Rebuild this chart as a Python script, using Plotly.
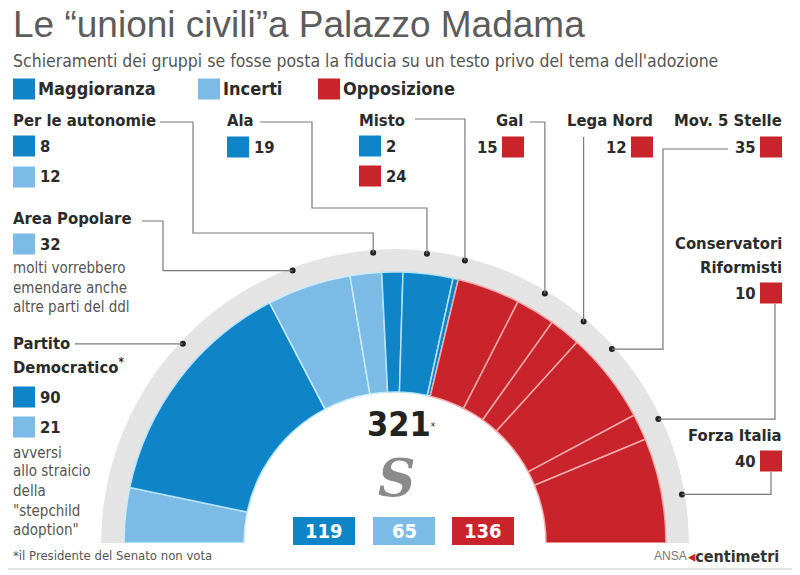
import math
import plotly.graph_objects as go

# ---------------- data ----------------
GROUPS = ["PD (incerti)", "PD", "Area Popolare", "Per le autonomie (incerti)", "Per le autonomie",
          "Ala", "Misto (magg.)", "Misto (opp.)", "Gal", "Lega Nord", "Mov. 5 Stelle",
          "Conservatori Riformisti", "Forza Italia"]
SEATS = [21, 90, 32, 12, 8, 19, 2, 24, 15, 12, 35, 10, 40]
STANCE = ["Incerti", "Maggioranza", "Incerti", "Incerti", "Maggioranza", "Maggioranza", "Maggioranza",
          "Opposizione", "Opposizione", "Opposizione", "Opposizione", "Opposizione", "Opposizione"]
SENATE_TOTAL = "321"
LEGEND_NAMES = ["Maggioranza", "Incerti", "Opposizione"]

COL = {"Maggioranza": "#0f85c8", "Incerti": "#7bbbe6", "Opposizione": "#c9232b"}
SEP = {"Maggioranza": "#b5e2f8", "Incerti": "#c9ecfb", "Opposizione": "#f4aaaa"}

# the page body has an 8px margin: the figure is drawn offset by (8, 8)
OFF = 8
W, H = 800 - OFF, 575 - OFF
def px(x): return (x - OFF) / W
def py(y): return 1 - (y - OFF) / H

CX, CY = 395, 543
R_IN, R_COL, R_OUT = 151, 271, 294
DOT_R = 291

NARROW = "Liberation Sans Narrow, DejaVu Sans Condensed, Arial Narrow, Liberation Sans"
REG = "Liberation Sans, Arial, sans-serif"

total = sum(SEATS)
thetas, widths, cum = [], [], 0
for v in SEATS:
    thetas.append((cum + v / 2) * 180 / total)
    widths.append(v * 180 / total)
    cum += v

fig = go.Figure()
# grey outer ring
fig.add_trace(go.Barpolar(r=[R_OUT - R_COL], base=[R_COL], theta=[90], width=[180],
                          marker=dict(color="#e4e4e4", line=dict(width=0)), hoverinfo="skip", showlegend=False))
fig.add_trace(go.Barpolar(r=[R_COL - R_IN] * len(SEATS), base=[R_IN] * len(SEATS), theta=thetas, width=widths,
                          marker=dict(color=[COL[s] for s in STANCE],
                                      line=dict(color=[SEP[s] for s in STANCE], width=1.5)),
                          text=GROUPS, hoverinfo="text", showlegend=False))

# dots on the ring (angles from the left end, clockwise)
DOT_ANGLES = {"PD": 43.2, "AP": 69.4, "AUT": 85.7, "ALA": 96.3, "MISTO": 103.9, "GAL": 121.0,
              "LEGA": 130.4, "M5S": 138.2, "CR": 154.8, "FI": 170.4}
fig.add_trace(go.Scatterpolar(r=[DOT_R] * len(DOT_ANGLES), theta=list(DOT_ANGLES.values()), mode="markers",
                              marker=dict(color="#222", size=6), hoverinfo="skip", showlegend=False))

def dot(k):
    a = math.radians(DOT_ANGLES[k])
    return (CX - DOT_R * math.cos(a), CY - DOT_R * math.sin(a))

fig.update_layout(
    width=W, height=H, margin=dict(l=0, r=0, t=0, b=0),
    paper_bgcolor="white", plot_bgcolor="white",
    polar=dict(
        domain=dict(x=[px(CX - R_OUT), px(CX + R_OUT)], y=[py(CY), py(CY - R_OUT)]),
        sector=[0, 180], bgcolor="rgba(0,0,0,0)", bargap=0, hole=0,
        radialaxis=dict(range=[0, R_OUT], visible=False),
        angularaxis=dict(rotation=180, direction="clockwise", visible=False),
    ),
)

shapes, ann = [], []

def path(points):
    s = "M " + " L ".join(f"{px(x)},{py(y)}" for x, y in points)
    shapes.append(dict(type="path", xref="paper", yref="paper", path=s,
                       line=dict(color="#7a7a7a", width=1.2)))

def sq(x, yc, stance, w=22, h=21):
    shapes.append(dict(type="rect", xref="paper", yref="paper", x0=px(x), x1=px(x + w),
                       y0=py(yc - h / 2), y1=py(yc + h / 2), fillcolor=COL[stance], line=dict(width=0)))

def txt(x, y, s, size=16.5, bold=True, anchor="left", color="#2b2b2b", fam=NARROW):
    ann.append(dict(x=px(x), y=py(y), xref="paper", yref="paper", text=(f"<b>{s}</b>" if bold else s),
                    showarrow=False, xanchor=anchor, yanchor="middle",
                    font=dict(family=fam, size=size, color=color)))

# leader lines
d = dot("AUT"); path([(160, 122), (193, 122), (193, 233), (d[0], 233), d])
d = dot("AP"); path([(142, 221), (163, 221), (163, d[1]), d])
d = dot("PD"); path([(75, d[1]), d])
d = dot("ALA"); path([(260, 122), (312, 122), (312, 208), (d[0], 208), d])
d = dot("MISTO"); path([(415, 119), (d[0], 119), d])
d = dot("GAL"); path([(530, 122), (d[0], 122), d])
d = dot("LEGA"); path([(d[0], 137), d])
d = dot("M5S"); path([(728, 149), (663, 149), (663, d[1]), d])
d = dot("CR"); path([(775, 304), (775, d[1]), d])
d = dot("FI"); path([(771, 472), (771, d[1]), d])

# title / subtitle
txt(11, 25, "Le “unioni civili”a Palazzo Madama", size=37, bold=False, color="#5c5c5c", fam=REG)
txt(11, 61, "Schieramenti dei gruppi se fosse posta la fiducia su un testo privo del tema dell'adozione",
    size=17.5, bold=False, color="#555")
# legend
for x, name in zip([13, 198, 318], LEGEND_NAMES):
    sq(x, 89, name)
    txt(x + 23, 89, name, size=18)

# left labels
txt(11, 120, "Per le autonomie")
sq(13, 146, STANCE[4]); txt(38, 146, str(SEATS[4]))
sq(13, 177, STANCE[3]); txt(38, 177, str(SEATS[3]))
txt(11, 218, "Area Popolare")
sq(13, 244, STANCE[2]); txt(38, 244, str(SEATS[2]))
for y, s in zip([268, 288, 307], ["molti vorrebbero", "emendare anche", "altre parti del ddl"]):
    txt(11, y, s, size=15, bold=False, color="#555")
txt(11, 343, "Partito")
txt(11, 366, "Democratico<sup>*</sup>")
sq(13, 397, STANCE[1]); txt(38, 397, str(SEATS[1]))
sq(13, 427, STANCE[0]); txt(38, 427, str(SEATS[0]))
for y, s in zip([453, 471, 491, 511, 530], ["avversi", "allo straicio", "della", "\"stepchild", "adoption\""]):
    txt(11, y, s, size=15, bold=False, color="#555")
txt(11, 555, "*il Presidente del Senato non vota", size=13, bold=False, color="#555")

# top labels
txt(225, 120, "Ala")
sq(227, 147, STANCE[5]); txt(252, 147, str(SEATS[5]))
txt(357, 120, "Misto")
sq(359, 146, STANCE[6]); txt(384, 146, str(SEATS[6]))
sq(359, 176, STANCE[7]); txt(384, 176, str(SEATS[7]))
txt(525, 120, "Gal", anchor="right")
sq(502, 147, STANCE[8]); txt(500, 147, str(SEATS[8]), anchor="right")
txt(655, 120, "Lega Nord", anchor="right")
sq(631, 147, STANCE[9]); txt(629, 147, str(SEATS[9]), anchor="right")
txt(784, 120, "Mov. 5 Stelle", anchor="right")
sq(760, 147, STANCE[10]); txt(758, 147, str(SEATS[10]), anchor="right")
txt(784, 243, "Conservatori", anchor="right")
txt(784, 267, "Riformisti", anchor="right")
sq(760, 293, STANCE[11]); txt(758, 293, str(SEATS[11]), anchor="right")
txt(784, 435, "Forza Italia", anchor="right")
sq(760, 461, STANCE[12]); txt(758, 461, str(SEATS[12]), anchor="right")

# centre
ann.append(dict(x=px(401), y=py(424), xref="paper", yref="paper",
                text="<b>" + SENATE_TOTAL + "</b><span style='font-size:14px'><sup>*</sup></span>",
                showarrow=False, xanchor="center", yanchor="middle",
                font=dict(family=NARROW, size=34, color="#222")))
ann.append(dict(x=px(397), y=py(477), xref="paper", yref="paper", text="<b><i>S</i></b>", showarrow=False,
                xanchor="center", yanchor="middle", font=dict(family="DejaVu Serif", size=52, color="#8a8a8a")))
totals = {k: sum(v for v, s in zip(SEATS, STANCE) if s == k) for k in LEGEND_NAMES}
for x0, k in zip([293, 373, 452], LEGEND_NAMES):
    shapes.append(dict(type="rect", xref="paper", yref="paper", x0=px(x0), x1=px(x0 + 62),
                       y0=py(545), y1=py(517), fillcolor=COL[k], line=dict(width=0)))
    txt(x0 + 31, 531, str(totals[k]), size=20, anchor="center", color="white")

# credits
txt(652, 556, "ANSA", size=12, bold=False, color="#777", fam=REG)
ann.append(dict(x=px(686), y=py(556), xref="paper", yref="paper",
                text="<span style='color:#c9232b'>◂</span><b>centimetri</b>", showarrow=False,
                xanchor="left", yanchor="middle", font=dict(family=NARROW, size=16, color="#333")))
# frame
shapes.append(dict(type="rect", xref="paper", yref="paper", x0=px(-2), x1=px(796), y0=py(569), y1=py(-2),
                   line=dict(color="#c8c8c8", width=1)))

fig.update_layout(shapes=shapes, annotations=ann)
fig.write_html("out.html")
